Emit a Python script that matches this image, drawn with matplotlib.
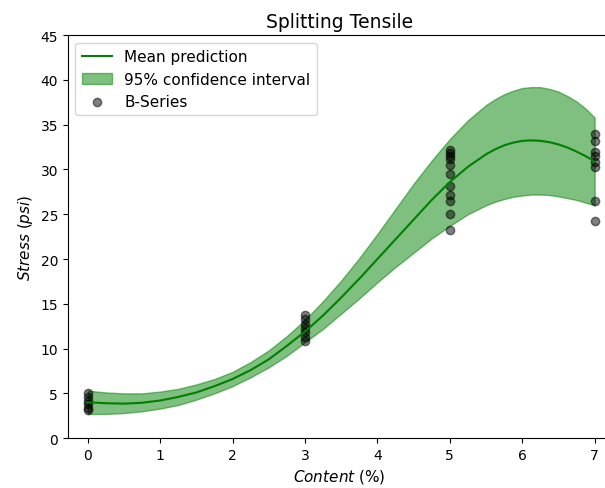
import matplotlib.pyplot as plt

# observed B-Series points
x_obs = [0]*6 + [3]*7 + [5]*11 + [7]*8
y_obs = [5.0, 4.6, 4.2, 3.8, 3.4, 3.1,
         13.7, 13.3, 12.8, 12.3, 11.8, 11.3, 10.9,
         32.2, 31.8, 31.5, 31.2, 30.5, 29.5, 28.2, 27.2, 26.5, 25.0, 23.2,
         34.0, 33.2, 32.0, 31.5, 30.8, 30.3, 26.5, 24.2]

# prediction curve
x_pred = [0, 0.25, 0.5, 0.75, 1, 1.25, 1.5, 1.75, 2, 2.25, 2.5, 2.75, 3, 3.25,
          3.5, 3.75, 4, 4.25, 4.5, 4.75, 5, 5.25, 5.5, 5.625, 5.75, 5.875,
          6, 6.125, 6.25, 6.375, 6.5, 6.625, 6.75, 6.875, 7]
mean = [4.0, 3.9, 3.85, 3.95, 4.2, 4.6, 5.1, 5.8, 6.6, 7.6, 8.8, 10.3, 11.9, 13.7,
        15.7, 17.8, 20.0, 22.2, 24.4, 26.6, 28.6, 30.3, 31.7, 32.25, 32.7, 33.0,
        33.2, 33.25, 33.2, 33.05, 32.8, 32.45, 32.0, 31.5, 30.9]
upper = [5.3, 5.1, 5.0, 5.0, 5.2, 5.5, 6.0, 6.6, 7.4, 8.5, 9.8, 11.4, 13.2, 15.3,
         17.6, 20.1, 22.8, 25.6, 28.4, 31.0, 33.4, 35.5, 37.2, 37.85, 38.4, 38.8,
         39.1, 39.2, 39.2, 39.0, 38.7, 38.2, 37.6, 36.8, 35.8]
lower = [2.7, 2.7, 2.8, 3.0, 3.3, 3.7, 4.3, 5.0, 5.8, 6.8, 7.9, 9.2, 10.7, 12.2,
         13.9, 15.6, 17.4, 19.1, 20.7, 22.3, 23.7, 25.0, 26.0, 26.4, 26.7, 26.95,
         27.1, 27.2, 27.2, 27.15, 27.0, 26.8, 26.6, 26.3, 26.0]

fig = plt.figure(figsize=(6.05, 4.89), dpi=100)
ax = fig.add_axes([0.112, 0.102, 0.899, 0.824])

ax.plot(x_pred, mean, color='green', label='Mean prediction')
ax.fill_between(x_pred, lower, upper, color='green', alpha=0.5, label='95% confidence interval')
ax.scatter(x_obs, y_obs, color='black', alpha=0.5, label='B-Series')

ax.set_xlim(-0.276, 7.235)
ax.set_ylim(0, 45)
ax.set_xticks(range(8))
ax.set_yticks(range(0, 46, 5))
ax.spines['right'].set_visible(False)

ax.set_title('Splitting Tensile', fontsize=13.5)
ax.set_xlabel(r'$\it{Content}$ (%)', fontsize=11)
ax.set_ylabel(r'$\it{Stress}$ ($\it{psi}$)', fontsize=11)
ax.legend(loc='upper left', fontsize=11)

fig.savefig('out.png')
